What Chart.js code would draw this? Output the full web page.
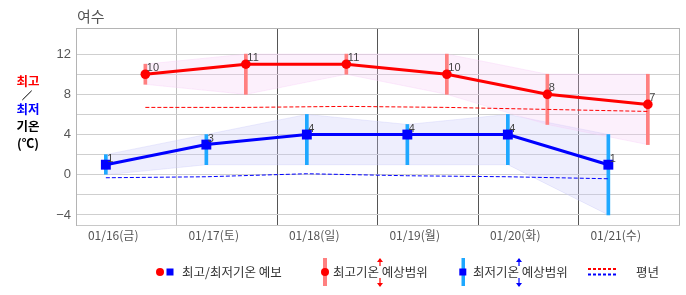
<!DOCTYPE html>
<html><head><meta charset="utf-8">
<script src="https://cdn.jsdelivr.net/npm/chart.js@4.4.1/dist/chart.umd.min.js"></script>
<style>html,body{margin:0;padding:0;background:#fff;}#wrap{width:686px;height:295px;position:relative;}</style>
</head><body><div id="wrap"><canvas id="c"></canvas></div>
<script>
// ---- data ----
const stationName = '여수';
const dates = ['01/16(금)', '01/17(토)', '01/18(일)', '01/19(월)', '01/20(화)', '01/21(수)'];
const highTemps = [10, 11, 11, 10, 8, 7];
const lowTemps = [1, 3, 4, 4, 4, 1];
const highRangeMax = [11, 12, 12, 12, 10, 10];
const highRangeMin = [9, 8, 10, 8, 5, 3];
const lowRangeMax = [2, 4, 6, 5, 6, 4];
const lowRangeMin = [0, 1, 1, 1, 1, -4];
const normalHigh = [6.7, 6.7, 6.8, 6.7, 6.5, 6.3];
const normalLow = [-0.3, -0.2, 0.1, -0.1, -0.2, -0.4];
const yTickLabels = [-4, 0, 4, 8, 12];
const legendLabels = ['최고/최저기온 예보', '최고기온 예상범위', '최저기온 예상범위', '평년'];

// position of each series inside a day column
const HIGH_OFF = 0.69, LOW_OFF = 0.297, LABEL_OFF = 0.37;
const pts = (arr, off) => arr.map((v, i) => ({x: i + off, y: v}));
const rng = (lo, hi, off) => lo.map((v, i) => ({x: i + off, y: [v, hi[i]]}));

const KR = '"Noto Sans CJK KR", "Noto Sans", sans-serif';

const datasets = [
  {label: 'high', data: pts(highTemps, HIGH_OFF), borderColor: '#ff0000', backgroundColor: '#ff0000', borderWidth: 3,
   pointRadius: 4.8, pointBorderWidth: 0, pointBackgroundColor: '#ff0000', order: 1, fill: false},
  {label: 'low', data: pts(lowTemps, LOW_OFF), borderColor: '#0000ff', backgroundColor: '#0000ff', borderWidth: 3,
   pointStyle: 'rect', pointRadius: 7, pointBorderWidth: 0, pointBackgroundColor: '#0000ff', order: 2, fill: false},
  {label: 'normalHigh', data: pts(normalHigh, HIGH_OFF), borderColor: '#ff0000', borderWidth: 1, borderDash: [4, 2],
   pointRadius: 0, order: 3, fill: false},
  {label: 'normalLow', data: pts(normalLow, LOW_OFF), borderColor: '#0000ff', borderWidth: 1, borderDash: [4, 2],
   pointRadius: 0, order: 3, fill: false},
  {type: 'bar', label: 'highRange', data: rng(highRangeMin, highRangeMax, HIGH_OFF), backgroundColor: '#ff8080',
   barThickness: 3, grouped: false, borderWidth: 0, order: 4},
  {type: 'bar', label: 'lowRange', data: rng(lowRangeMin, lowRangeMax, LOW_OFF), backgroundColor: '#1ea8ff',
   barThickness: 3, grouped: false, borderWidth: 0, order: 4},
  {label: 'highBandTop', data: pts(highRangeMax, HIGH_OFF), borderColor: 'rgba(245,200,245,0.35)', borderWidth: 1,
   backgroundColor: 'rgba(245,200,245,0.28)', pointRadius: 0, fill: '+1', order: 5},
  {label: 'highBandBottom', data: pts(highRangeMin, HIGH_OFF), borderColor: 'rgba(245,200,245,0.35)', borderWidth: 1,
   pointRadius: 0, fill: false, order: 5},
  {label: 'lowBandTop', data: pts(lowRangeMax, LOW_OFF), borderColor: 'rgba(200,200,250,0.35)', borderWidth: 1,
   backgroundColor: 'rgba(200,200,250,0.3)', pointRadius: 0, fill: '+1', order: 6},
  {label: 'lowBandBottom', data: pts(lowRangeMin, LOW_OFF), borderColor: 'rgba(200,200,250,0.35)', borderWidth: 1,
   pointRadius: 0, fill: false, order: 6}
];

const valueLabels = {
  id: 'valueLabels',
  afterDatasetsDraw(chart) {
    const ctx = chart.ctx;
    ctx.save();
    ctx.font = '11px "Liberation Sans", Arial, sans-serif';
    ctx.fillStyle = '#444';
    ctx.textAlign = 'left';
    ctx.textBaseline = 'alphabetic';
    [0, 1].forEach(di => {
      const meta = chart.getDatasetMeta(di);
      const src = di === 0 ? highTemps : lowTemps;
      meta.data.forEach((p, i) => ctx.fillText(String(src[i]), p.x + 1.5, p.y - 3));
    });
    ctx.restore();
  }
};

function arrow(ctx, x, y1, y2, color) {
  ctx.strokeStyle = color; ctx.fillStyle = color; ctx.lineWidth = 1.2;
  ctx.beginPath(); ctx.moveTo(x, y1); ctx.lineTo(x, y2); ctx.stroke();
  const d = y2 > y1 ? 1 : -1;
  ctx.beginPath(); ctx.moveTo(x, y2 + d); ctx.lineTo(x - 3, y2 - 3 * d); ctx.lineTo(x + 3, y2 - 3 * d); ctx.closePath(); ctx.fill();
}

const decorations = {
  id: 'decorations',
  afterDraw(chart) {
    const ctx = chart.ctx;
    ctx.save();
    ctx.font = '15px ' + KR; ctx.fillStyle = '#555'; ctx.textAlign = 'left'; ctx.textBaseline = 'alphabetic';
    ctx.fillText(stationName, 77, 22);
    ctx.textAlign = 'center'; ctx.textBaseline = 'middle';
    ctx.font = 'bold 12.5px ' + KR;
    ctx.fillStyle = '#ff0000'; ctx.fillText('최고', 28, 81.5);
    ctx.fillStyle = '#0000ff'; ctx.fillText('최저', 28, 109.5);
    ctx.fillStyle = '#000'; ctx.fillText('기온', 28, 126);
    ctx.fillText('(℃)', 28, 143);
    ctx.strokeStyle = '#000'; ctx.lineWidth = 1;
    ctx.beginPath(); ctx.moveTo(31.7, 90.7); ctx.lineTo(22.3, 100); ctx.stroke();
    const cy = 272;
    ctx.font = '12.5px ' + KR; ctx.textAlign = 'left';
    ctx.fillStyle = '#ff0000'; ctx.beginPath(); ctx.arc(160, cy, 4, 0, Math.PI * 2); ctx.fill();
    ctx.fillStyle = '#0000ff'; ctx.fillRect(166.5, cy - 3.5, 7, 7);
    ctx.fillStyle = '#333'; ctx.fillText(legendLabels[0], 182, cy);
    ctx.fillStyle = '#ff8080'; ctx.fillRect(323, 258, 4, 28);
    ctx.fillStyle = '#ff0000'; ctx.beginPath(); ctx.arc(325, cy, 4, 0, Math.PI * 2); ctx.fill();
    ctx.fillStyle = '#333'; ctx.fillText(legendLabels[1], 333, cy);
    arrow(ctx, 380, 266, 259, '#ff0000');
    arrow(ctx, 380, 278, 286, '#ff0000');
    ctx.fillStyle = '#1ea8ff'; ctx.fillRect(461.5, 258, 3.5, 28);
    ctx.fillStyle = '#0000ff'; ctx.fillRect(459.3, cy - 3.5, 7, 7);
    ctx.fillStyle = '#333'; ctx.fillText(legendLabels[2], 473, cy);
    arrow(ctx, 519, 266, 259, '#0000ff');
    arrow(ctx, 519, 278, 286, '#0000ff');
    ctx.lineWidth = 2; ctx.setLineDash([3, 2]);
    ctx.strokeStyle = '#ff0000'; ctx.beginPath(); ctx.moveTo(588, 269); ctx.lineTo(616, 269); ctx.stroke();
    ctx.strokeStyle = '#0000ff'; ctx.beginPath(); ctx.moveTo(588, 274.5); ctx.lineTo(616, 274.5); ctx.stroke();
    ctx.setLineDash([]);
    ctx.fillStyle = '#333'; ctx.fillText(legendLabels[3], 636, cy);
    ctx.restore();
  }
};

const near = (v, t) => Math.abs(v - t) < 1e-6;

new Chart(document.getElementById('c'), {
  type: 'line',
  data: {datasets},
  options: {
    responsive: true, maintainAspectRatio: false, animation: false,
    layout: {padding: {top: 28, right: 4, bottom: 40, left: 0}},
    plugins: {legend: {display: false}, tooltip: {enabled: false}},
    elements: {line: {tension: 0}},
    scales: {
      x: {
        type: 'linear', min: 0, max: 6, offset: false,
        ticks: {display: false, stepSize: 1},
        grid: {offset: false, drawTicks: false, lineWidth: 1,
          color: c => { const v = c.tick.value; if (near(v, 0) || near(v, 6)) return '#b4b4b4'; if (near(v, 1)) return '#bdbdbd'; return '#555'; }},
        border: {display: true, color: '#c8c8c8'},
        afterFit: s => { s.height = 0; }
      },
      x2: {
        type: 'linear', min: 0, max: 6, position: 'bottom', offset: false,
        afterBuildTicks: s => { s.ticks = dates.map((d, i) => ({value: i + LABEL_OFF})); },
        ticks: {autoSkip: false, maxRotation: 0, padding: 3, color: '#555', font: {family: KR, size: 12},
          callback: (v, i) => dates[i]},
        grid: {display: false, drawTicks: false},
        border: {display: false},
        afterFit: s => { s.height = 30; }
      },
      y: {
        type: 'linear', min: -5, max: 14.6, beginAtZero: false,
        afterBuildTicks: s => {
          const t = [{value: -5}];
          for (let v = -4; v <= 12; v += 2) t.push({value: v});
          t.push({value: 14.6});
          s.ticks = t;
        },
        ticks: {autoSkip: false, padding: 5, color: '#555', font: {family: '"Liberation Sans", Arial, sans-serif', size: 13},
          callback: v => { const r = Math.round(v * 10) / 10; return yTickLabels.includes(r) ? (r < 0 ? '\u2212' + Math.abs(r) : String(r)) : ''; }},
        grid: {drawTicks: false, lineWidth: 1,
          color: c => { const v = c.tick.value; if (near(v, 14.6)) return '#b4b4b4'; return '#cfcfcf'; }},
        border: {display: true, color: '#b4b4b4'},
        afterFit: s => { s.width = 76; }
      }
    }
  },
  plugins: [valueLabels, decorations]
});
</script>
</body></html>
